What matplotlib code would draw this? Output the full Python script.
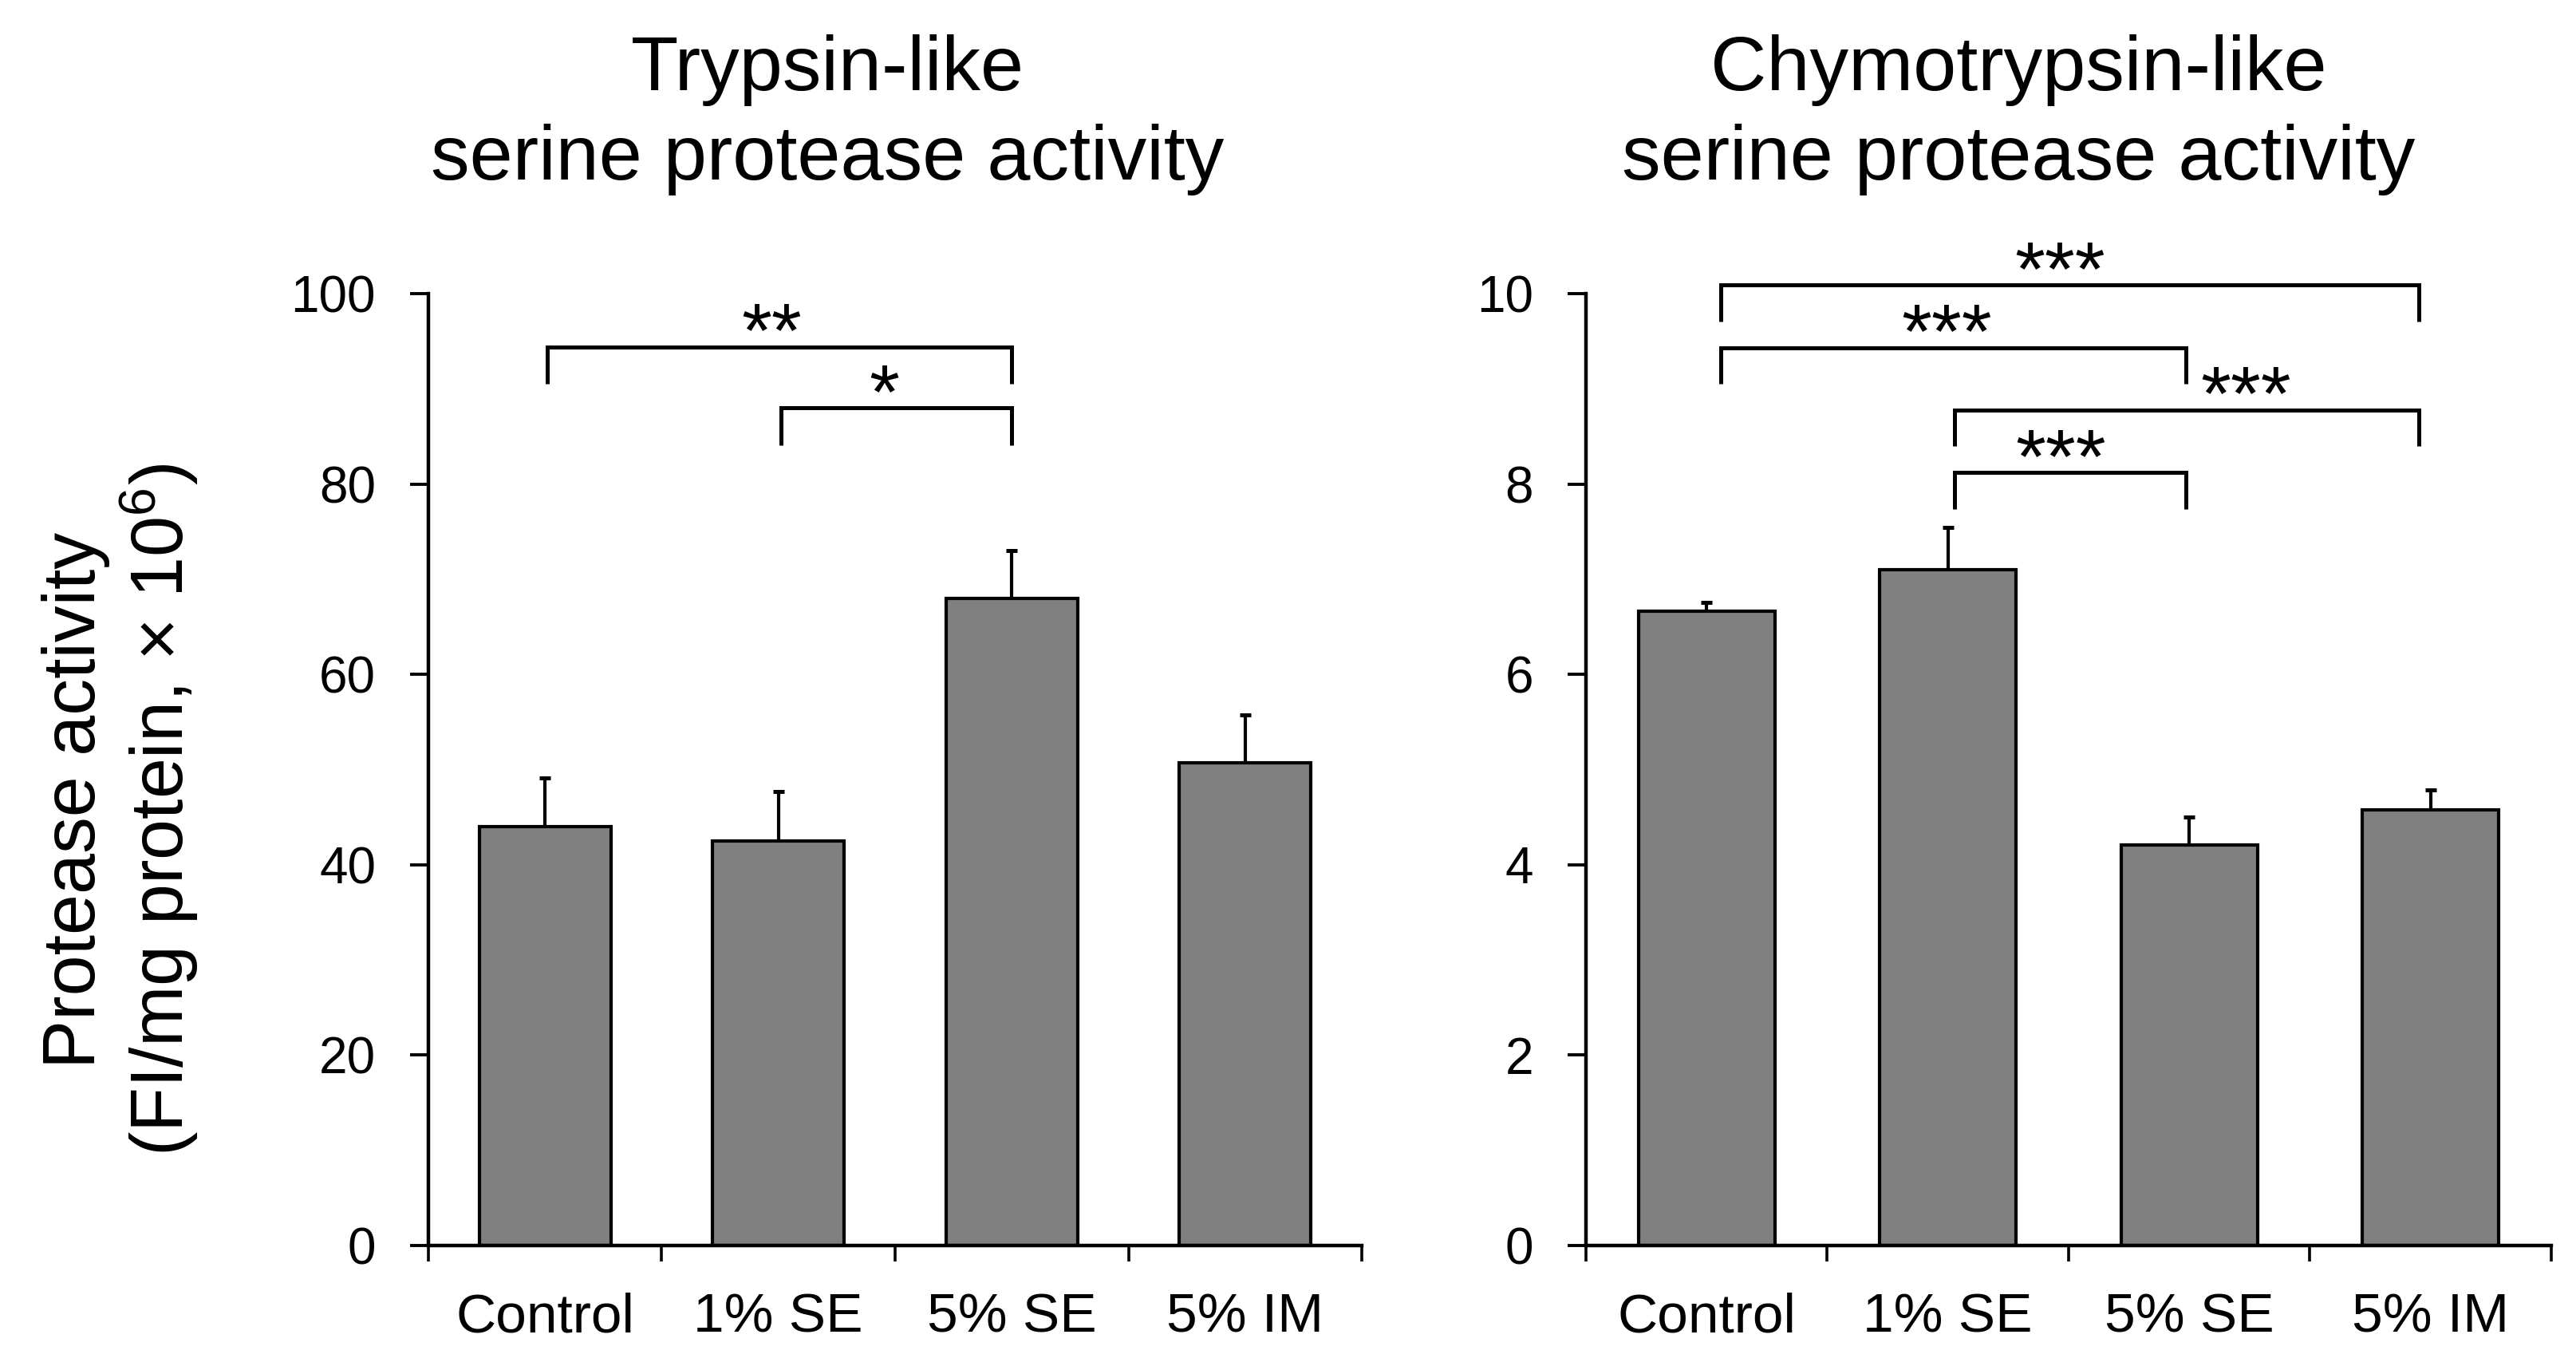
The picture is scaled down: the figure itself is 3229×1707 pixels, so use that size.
import numpy as np
import matplotlib
matplotlib.use("Agg")
import matplotlib.pyplot as plt

plt.rcParams['font.family'] = ['Liberation Sans', 'DejaVu Sans']
plt.rcParams['mathtext.fontset'] = 'custom'
plt.rcParams['mathtext.rm'] = 'Liberation Sans'
plt.rcParams['mathtext.it'] = 'Liberation Sans:italic'

# data
groups = ["Control", "1% SE", "5% SE", "5% IM"]
trypsin_mean = [44.0, 42.5, 68.0, 50.7]
trypsin_err = [5.1, 5.2, 5.0, 5.0]
chymo_mean = [6.66, 7.10, 4.21, 4.58]
chymo_err = [0.10, 0.44, 0.29, 0.21]

# significance brackets: (from group, to group, label)
trypsin_sig = [(0, 2, "**"), (1, 2, "*")]
chymo_sig = [(0, 3, "***"), (0, 2, "***"), (1, 3, "***"), (1, 2, "***")]

W, H = 3230, 1707
fig = plt.figure(figsize=(W / 100, H / 100), dpi=100)
ax1 = fig.add_axes([537 / W, 1 - 1561 / H, 1170 / W, (1561 - 368) / H])
ax2 = fig.add_axes([1988 / W, 1 - 1561 / H, 1210 / W, (1561 - 368) / H])


def draw_panel(ax, means, errs, ymax, ystep):
    x = np.arange(len(groups))
    ax.bar(x, means, width=0.565, color='#808080', edgecolor='black',
           linewidth=3, zorder=2)
    ax.errorbar(x, means, yerr=[np.zeros(len(x)), errs], fmt='none',
                ecolor='black', elinewidth=3, capsize=4.7, capthick=3.6,
                zorder=1)
    ax.set_xlim(-0.5, len(groups) - 0.5)
    ax.set_ylim(0, ymax)
    for s in ['top', 'right']:
        ax.spines[s].set_visible(False)
    for s in ['left', 'bottom']:
        ax.spines[s].set_linewidth(3.2)
    ax.set_yticks(np.arange(0, ymax + 1e-9, ystep))
    ax.tick_params(axis='y', direction='out', length=16.5, width=2.8,
                   labelsize=46, pad=31)
    ax.set_xticks(x, groups)
    ax.tick_params(axis='x', which='major', length=0, labelsize=50, pad=42)
    ax.set_xticks(np.arange(-0.5, len(groups), 1), minor=True)
    ax.tick_params(axis='x', which='minor', direction='out', length=14.5,
                   width=2.6)


def draw_brackets(ax, sig, ends, heights, drop, star_dx):
    for (i, j, lab), y, dx in zip(sig, heights, star_dx):
        x1, x2 = ends[i], ends[j]
        ax.plot([x1, x1, x2, x2], [y - drop, y, y, y - drop], color='black',
                lw=3.6, clip_on=False, solid_capstyle='butt',
                solid_joinstyle='miter')
        ax.annotate(lab, xy=((x1 + x2) / 2 + dx, y), xytext=(0, -9),
                    textcoords='offset points', ha='center', va='baseline',
                    fontsize=70, annotation_clip=False)


draw_panel(ax1, trypsin_mean, trypsin_err, 100, 20)
draw_panel(ax2, chymo_mean, chymo_err, 10, 2)

draw_brackets(ax1, trypsin_sig, [0.01, 1.01, 2.0, 3.0], [94.4, 88.0], 3.9,
              [-0.035, -0.05])
draw_brackets(ax2, chymo_sig, [0.06, 1.028, 1.987, 2.951],
              [10.09, 9.43, 8.78, 8.12], 0.38,
              [-0.04, -0.03, 0.245, -0.04])

# titles
fig.text(1037 / W, 1 - 113 / H, "Trypsin-like", ha='center', va='baseline',
         fontsize=70)
fig.text(1037 / W, 1 - 225 / H, "serine protease activity", ha='center',
         va='baseline', fontsize=70)
fig.text(2530 / W, 1 - 113 / H, "Chymotrypsin-like", ha='center',
         va='baseline', fontsize=70)
fig.text(2530 / W, 1 - 225 / H, "serine protease activity", ha='center',
         va='baseline', fontsize=70)

# y label
fig.text(119 / W, 1 - 1003 / H, "Protease activity", rotation=90,
         rotation_mode='anchor', ha='center', va='baseline', fontsize=66)
fig.text(230 / W, 1 - 1015 / H, r"(FI/mg protein, $\times$ 10$^6$)",
         rotation=90, rotation_mode='anchor', ha='center', va='baseline',
         fontsize=66)

fig.savefig("out.png", dpi=100, facecolor='white')
